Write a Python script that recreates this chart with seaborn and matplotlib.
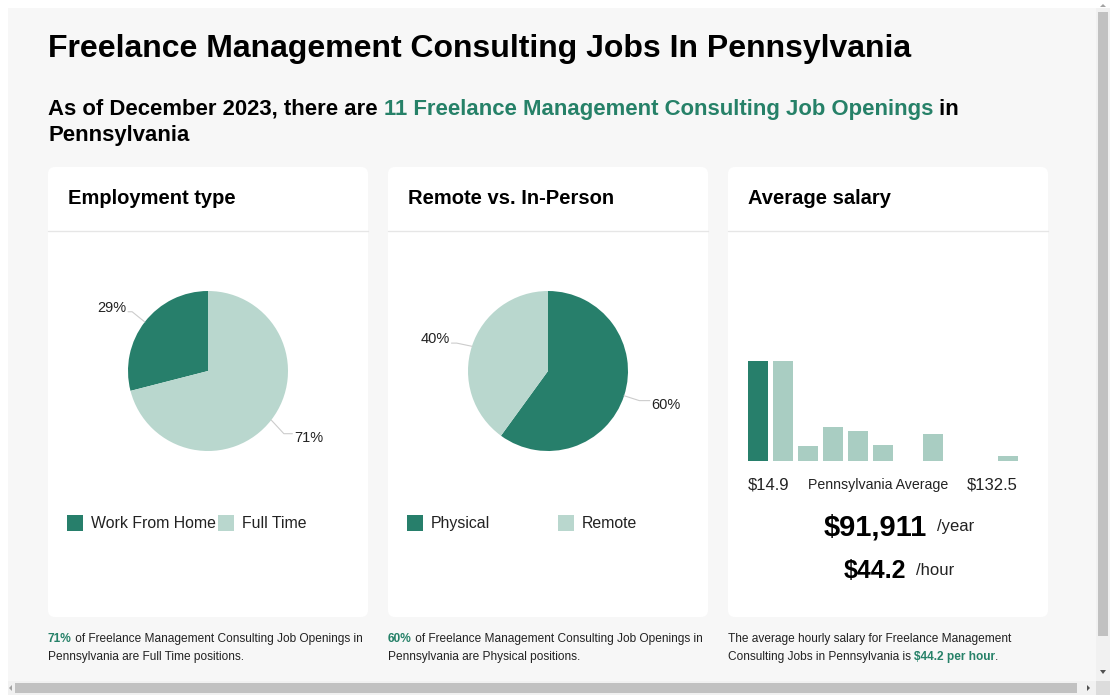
import numpy as np
import pandas as pd
import matplotlib
matplotlib.use('Agg')
import matplotlib.pyplot as plt
import seaborn as sns
from matplotlib.patches import FancyBboxPatch, Rectangle, Polygon

# ── Data ──────────────────────────────────────────────────────────────────────
employment_labels = ['Work From Home', 'Full Time']
employment_values = [29, 71]

remote_labels = ['Physical', 'Remote']
remote_values = [60, 40]

# relative share of openings per hourly-salary bin ($14.9 .. $132.5)
salary_bins   = ['b1', 'b2', 'b3', 'b4', 'b5', 'b6', 'b7', 'b8', 'b9', 'b10', 'b11']
salary_counts = [100, 100, 15.5, 34.5, 30.5, 16.5, 0, 27, 0, 0, 5.5]
salary_min, salary_max = '$14.9', '$132.5'
avg_year, avg_hour = '$91,911', '$44.2'

DARK   = '#277f6b'
LIGHT  = '#b9d7ce'
BARLT  = '#a9cdc2'
GREEN  = '#268168'
PAGE   = '#f7f7f7'
TXT    = '#222222'

sns.set_theme(style='white')
plt.rcParams['font.family'] = ['Liberation Sans', 'DejaVu Sans']

W, H = 1110, 695
fig = plt.figure(figsize=(W / 100, H / 100), dpi=100)
fig.patch.set_facecolor('white')

# background axes in pixel coordinates
bg = fig.add_axes([0, 0, 1, 1])
bg.set_xlim(0, W)
bg.set_ylim(H, 0)
bg.axis('off')
bg.add_patch(Rectangle((8, 8), W - 8, H - 8, color=PAGE, lw=0))

# ── Scrollbars ────────────────────────────────────────────────────────────────
bg.add_patch(Rectangle((1096, 8), 14, 673, color='#f1f1f1', lw=0))
bg.add_patch(Rectangle((1098, 12), 10, 624, color='#c1c1c1', lw=0))
bg.add_patch(Rectangle((8, 681), 1088, 14, color='#f1f1f1', lw=0))
bg.add_patch(Rectangle((15, 683), 1062, 10, color='#c1c1c1', lw=0))
bg.add_patch(Rectangle((1096, 681), 14, 14, color='#dcdcdc', lw=0))
bg.add_patch(Polygon([(1100, 7), (1106, 7), (1103, 4)], color='#a3a3a3', lw=0))
bg.add_patch(Polygon([(1100, 670), (1106, 670), (1103, 674)], color='#505050', lw=0))
bg.add_patch(Polygon([(12, 685), (12, 691), (9, 688)], color='#a3a3a3', lw=0))
bg.add_patch(Polygon([(1087, 685), (1087, 691), (1090, 688)], color='#505050', lw=0))

# ── Title & subtitle ──────────────────────────────────────────────────────────
bg.text(48, 57.5, 'Freelance Management Consulting Jobs In Pennsylvania',
        fontsize=23, fontweight='bold', color='black', va='baseline')

t1 = bg.text(48, 115, 'As of December 2023, there are ', fontsize=15.9,
             fontweight='bold', color='black', va='baseline')
t2 = bg.annotate('11 Freelance Management Consulting Job Openings',
                 xy=(1, 0), xycoords=t1, va='bottom', fontsize=15.9,
                 fontweight='bold', color=GREEN)
bg.annotate(' in', xy=(1, 0), xycoords=t2, va='bottom', fontsize=15.9,
            fontweight='bold', color='black')
bg.text(48, 141, 'Pennsylvania', fontsize=15.9, fontweight='bold',
        color='black', va='baseline')

# ── Cards ─────────────────────────────────────────────────────────────────────
card_x = [48, 388, 728]
card_titles = ['Employment type', 'Remote vs. In-Person', 'Average salary']
for x0, title in zip(card_x, card_titles):
    bg.add_patch(FancyBboxPatch((x0, 167), 320, 450,
                                boxstyle='round,pad=0,rounding_size=7',
                                fc='white', ec='none'))
    bg.plot([x0, x0 + 320], [230.5, 230.5], color='#e6e6e6', lw=1)
    bg.text(x0 + 20, 204.5, title, fontsize=14.5, fontweight='bold',
            color='black', va='baseline')


# ── Pies ──────────────────────────────────────────────────────────────────────
def draw_pie(cx, values, counterclock):
    ax = fig.add_axes([(cx - 160) / W, 1 - (371 + 120) / H, 320 / W, 240 / H])
    wedges, _ = ax.pie(values, colors=[DARK, LIGHT], startangle=90,
                       counterclock=counterclock, radius=1,
                       wedgeprops=dict(linewidth=0))
    ax.set_xlim(-2, 2)
    ax.set_ylim(-1.5, 1.5)
    ax.set_aspect('equal')
    ax.axis('off')
    for w, v in zip(wedges, values):
        mid = np.deg2rad((w.theta1 + w.theta2) / 2)
        c, s = np.cos(mid), np.sin(mid)
        side = 1 if c > 0 else -1
        r_lab = 1.36 if side > 0 else 1.29
        lx, ly = r_lab * c, r_lab * s
        p0 = (1.0 * c, 1.0 * s)
        p1 = (1.2 * c, ly - 0.05 * np.sign(s))
        p2 = (lx - side * 0.02, p1[1])
        ax.plot([p0[0], p1[0], p2[0]], [p0[1], p1[1], p2[1]],
                color='#cccccc', lw=0.8, clip_on=False)
        ax.text(lx, ly, f'{v}%', fontsize=10.5, color=TXT,
                ha='left' if side > 0 else 'right', va='center')
    return ax


draw_pie(208, employment_values, counterclock=True)
draw_pie(548, remote_values, counterclock=False)


def draw_legend(x_sq, x_txt, labels):
    for xs, xt, lab, col in zip(x_sq, x_txt, labels, [DARK, LIGHT]):
        bg.add_patch(Rectangle((xs, 515), 16, 16, color=col, lw=0))
        bg.text(xt, 528, lab, fontsize=11.4, color=TXT, va='baseline')


draw_legend([67, 218], [91, 242], employment_labels)
draw_legend([407, 558], [431, 582], remote_labels)

# ── Salary histogram ──────────────────────────────────────────────────────────
bar_ax = fig.add_axes([745.5 / W, 1 - 461 / H, 275 / W, 100 / H])
sal = pd.DataFrame({'bin': salary_bins, 'count': salary_counts,
                    'grp': ['low'] + ['rest'] * (len(salary_bins) - 1)})
sns.barplot(data=sal, x='bin', y='count', hue='grp',
            palette={'low': DARK, 'rest': BARLT}, width=0.8, saturation=1,
            dodge=False, legend=False, ax=bar_ax, linewidth=0)
bar_ax.set_xlim(-0.5, len(salary_bins) - 0.5)
bar_ax.set_ylim(0, max(salary_counts))
bar_ax.axis('off')

bg.text(748, 489.5, salary_min, fontsize=12, color=TXT, va='baseline')
bg.text(878, 489, 'Pennsylvania Average', fontsize=10.2, color=TXT,
        va='baseline', ha='center')
bg.text(1018, 489.5, salary_max, fontsize=12, color=TXT, va='baseline',
        ha='right')
bg.text(824, 535, avg_year, fontsize=21, fontweight='bold', color='black',
        va='baseline')
bg.text(937, 531, '/year', fontsize=12, color=TXT, va='baseline')
bg.text(844, 578, avg_hour, fontsize=18, fontweight='bold', color='black',
        va='baseline')
bg.text(916, 575, '/hour', fontsize=12, color=TXT, va='baseline')

# ── Footnotes ─────────────────────────────────────────────────────────────────
fs = 8.6
f1 = bg.text(48, 642, f'{employment_values[1]}%', fontsize=fs,
             fontweight='bold', color=GREEN, va='baseline')
bg.annotate(' of Freelance Management Consulting Job Openings in', xy=(1, 0),
            xycoords=f1, va='bottom', fontsize=fs, color=TXT)
bg.text(48, 660, 'Pennsylvania are Full Time positions.', fontsize=fs,
        color=TXT, va='baseline')

f2 = bg.text(388, 642, f'{remote_values[0]}%', fontsize=fs,
             fontweight='bold', color=GREEN, va='baseline')
bg.annotate(' of Freelance Management Consulting Job Openings in', xy=(1, 0),
            xycoords=f2, va='bottom', fontsize=fs, color=TXT)
bg.text(388, 660, 'Pennsylvania are Physical positions.', fontsize=fs,
        color=TXT, va='baseline')

bg.text(728, 642, 'The average hourly salary for Freelance Management',
        fontsize=fs, color=TXT, va='baseline')
f3 = bg.text(728, 660, 'Consulting Jobs in Pennsylvania is ', fontsize=fs,
             color=TXT, va='baseline')
f4 = bg.annotate(f'{avg_hour} per hour', xy=(1, 0), xycoords=f3, va='bottom',
                 fontsize=fs, fontweight='bold', color=GREEN)
bg.annotate('.', xy=(1, 0), xycoords=f4, va='bottom', fontsize=fs,
            color=TXT)

fig.savefig('out.png', dpi=100, facecolor=fig.get_facecolor())
plt.close(fig)
